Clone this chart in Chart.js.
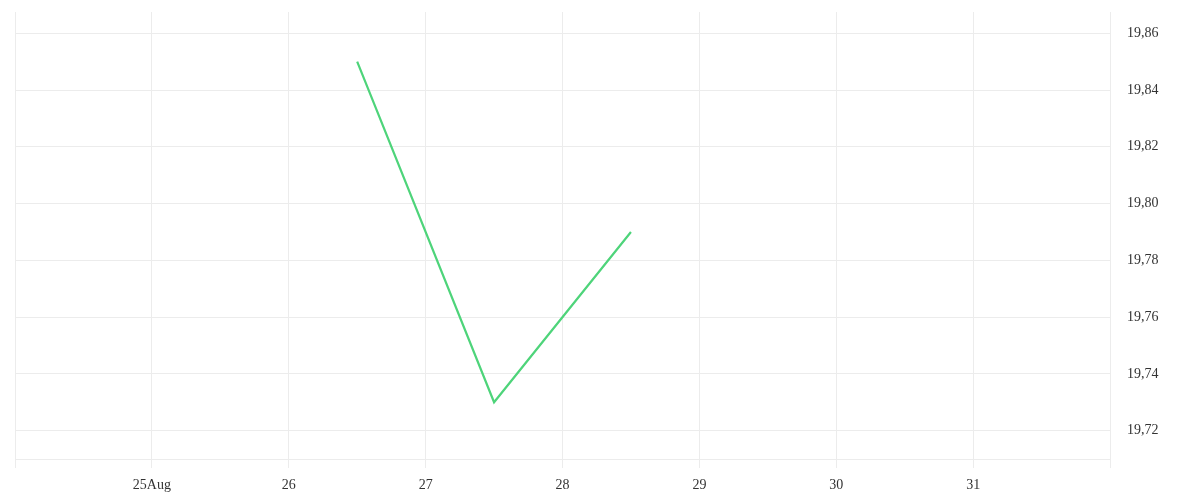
<!DOCTYPE html>
<html><head><meta charset="utf-8">
<script src="https://cdn.jsdelivr.net/npm/chart.js@4/dist/chart.umd.min.js"></script>
<style>html,body{margin:0;padding:0;background:#fff}#wrap{width:1200px;height:500px}</style>
</head><body><div id="wrap"><canvas id="c" width="1200" height="500"></canvas></div>
<script>
// Days in August (32 = 1 Sep)
const dayPositions = [26.5, 27.5, 28.5];
const priceValues = [19.85, 19.73, 19.79];
const xTickDays = [24, 25, 26, 27, 28, 29, 30, 31, 32];
const xTickLabels = ['', '25Aug', '26', '27', '28', '29', '30', '31', ''];
const yTickValues = [19.72, 19.74, 19.76, 19.78, 19.80, 19.82, 19.84, 19.86];

const gridColor = 'rgb(236,236,236)';
const fontSpec = {family: '"Liberation Serif", "DejaVu Serif", serif', size: 14};

new Chart(document.getElementById('c'), {
  type: 'line',
  data: {
    datasets: [{
      data: dayPositions.map((d, i) => ({x: d, y: priceValues[i]})),
      borderColor: 'rgb(78,212,122)',
      borderWidth: 2.2,
      pointRadius: 0,
      tension: 0,
      fill: false
    }]
  },
  options: {
    responsive: false,
    animation: false,
    layout: {padding: {left: 15, top: 12, right: 0, bottom: 0}},
    plugins: {legend: {display: false}, tooltip: {enabled: false}},
    scales: {
      x: {
        type: 'linear',
        min: 24, max: 32,
        afterBuildTicks: s => { s.ticks = xTickDays.map(v => ({value: v})); },
        afterFit: s => { s.height = 41; s.paddingLeft = 0; s.paddingRight = 0; },
        grid: {color: gridColor, tickLength: 9, lineWidth: 1},
        border: {color: gridColor},
        ticks: {
          autoSkip: false, maxRotation: 0, padding: 9,
          color: '#333', font: fontSpec,
          callback: (v, i) => xTickLabels[xTickDays.indexOf(v)] ?? ''
        }
      },
      y: {
        type: 'linear',
        position: 'right',
        min: 19.71, max: 19.8675,
        afterBuildTicks: s => { s.ticks = yTickValues.map(v => ({value: v})); },
        afterFit: s => { s.width = 90; s.paddingTop = 0; s.paddingBottom = 0; },
        grid: {color: gridColor, drawTicks: false, lineWidth: 1},
        border: {color: gridColor},
        ticks: {
          padding: 17, color: '#333', font: fontSpec,
          callback: v => Number(v).toFixed(2).replace('.', ',')
        }
      }
    }
  }
});
</script></body></html>
